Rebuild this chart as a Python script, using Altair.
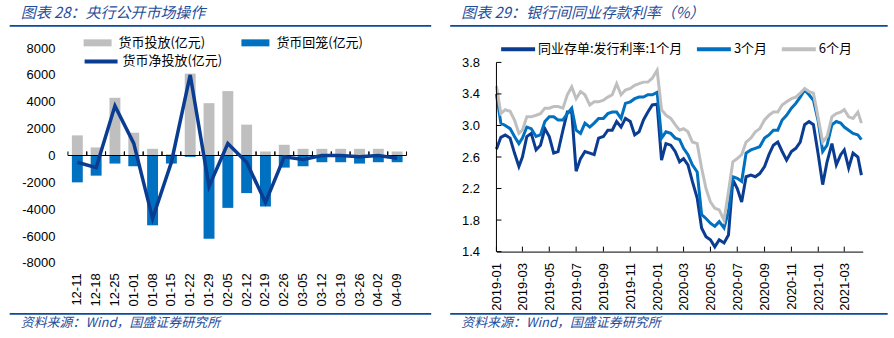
import altair as alt
import pandas as pd

# ---------------- data: left panel ----------------
weeks = ["12-11", "12-18", "12-25", "01-01", "01-08", "01-15", "01-22", "01-29", "02-05",
         "02-12", "02-19", "02-26", "03-05", "03-12", "03-19", "03-26", "04-02", "04-09"]
inject = [1500, 600, 4300, 1700, 500, 100, 6100, 3900, 4800,
          2300, 300, 800, 500, 500, 500, 500, 500, 300]
withdraw = [-2000, -1500, -600, -800, -5200, -600, -100, -6200, -3900,
            -2800, -3800, -900, -800, -500, -500, -600, -500, -500]
net = [-500, -900, 3700, 900, -4700, -500, 6000, -2300, 900,
       -500, -3500, -100, -300, 0, 0, -100, 0, -200]
left_ticks = [-8000, -6000, -4000, -2000, 0, 2000, 4000, 6000, 8000]

# ---------------- data: right panel ----------------
dates = [
    "2019-01-01", "2019-01-11", "2019-01-21", "2019-02-01", "2019-02-11", "2019-02-21",
    "2019-03-01", "2019-03-11", "2019-03-21", "2019-04-01", "2019-04-11", "2019-04-21",
    "2019-05-01", "2019-05-11", "2019-05-21", "2019-06-01", "2019-06-11", "2019-06-21",
    "2019-07-01", "2019-07-11", "2019-07-21", "2019-08-01", "2019-08-11", "2019-08-21",
    "2019-09-01", "2019-09-11", "2019-09-21", "2019-10-01", "2019-10-11", "2019-10-21",
    "2019-11-01", "2019-11-11", "2019-11-21", "2019-12-01", "2019-12-11", "2019-12-21",
    "2020-01-01", "2020-01-11", "2020-01-21", "2020-02-01", "2020-02-11", "2020-02-21",
    "2020-03-01", "2020-03-11", "2020-03-21", "2020-04-01", "2020-04-11", "2020-04-21",
    "2020-05-01", "2020-05-11", "2020-05-21", "2020-06-01", "2020-06-11", "2020-06-21",
    "2020-07-01", "2020-07-11", "2020-07-21", "2020-08-01", "2020-08-11", "2020-08-21",
    "2020-09-01", "2020-09-11", "2020-09-21", "2020-10-01", "2020-10-11", "2020-10-21",
    "2020-11-01", "2020-11-11", "2020-11-21", "2020-12-01", "2020-12-11", "2020-12-21",
    "2021-01-01", "2021-01-11", "2021-01-21", "2021-02-01", "2021-02-11", "2021-02-21",
    "2021-03-01", "2021-03-11", "2021-03-21", "2021-04-01", "2021-04-09"]
rate_1m = [2.70, 2.85, 2.88, 2.84, 2.65, 2.48, 2.60, 2.86, 2.90, 2.69, 2.75, 2.96,
           2.86, 2.65, 2.67, 2.94, 3.17, 3.17, 2.42, 2.58, 2.67, 2.65, 2.63, 2.84,
           2.86, 2.94, 2.94, 3.05, 2.98, 3.09, 3.05, 2.88, 2.92, 3.07, 3.17, 3.26,
           3.27, 2.56, 2.77, 2.75, 2.67, 2.54, 2.58, 2.50, 2.29, 2.08, 1.70, 1.59,
           1.55, 1.46, 1.55, 1.51, 1.61, 2.31, 2.20, 2.03, 2.35, 2.37, 2.35, 2.39,
           2.48, 2.63, 2.75, 2.79, 2.67, 2.56, 2.67, 2.71, 2.79, 3.01, 3.05, 3.01,
           2.63, 2.25, 2.54, 2.77, 2.50, 2.63, 2.69, 2.46, 2.65, 2.60, 2.37]
rate_3m = [3.40, 3.03, 3.00, 2.96, 2.86, 2.77, 2.84, 2.98, 2.96, 2.86, 2.88, 3.05,
           3.11, 3.11, 3.07, 3.07, 3.15, 3.22, 2.94, 2.90, 3.03, 2.98, 3.03, 3.09,
           3.09, 3.15, 3.17, 3.17, 3.09, 3.28, 3.30, 3.34, 3.36, 3.36, 3.39, 3.39,
           3.42, 2.84, 2.92, 2.90, 2.84, 2.82, 2.71, 2.63, 2.50, 2.41, 1.87, 1.82,
           1.76, 1.72, 1.78, 1.70, 1.91, 2.35, 2.33, 2.29, 2.65, 2.69, 2.71, 2.73,
           2.84, 2.88, 2.94, 2.94, 3.07, 3.13, 3.22, 3.28, 3.36, 3.45, 3.39, 3.32,
           3.05, 2.67, 2.75, 3.01, 3.05, 3.03, 2.98, 2.94, 2.90, 2.88, 2.82]
rate_6m = [3.50, 3.15, 3.20, 3.18, 3.07, 2.90, 2.94, 3.11, 3.11, 3.13, 3.15, 3.22,
           3.22, 3.24, 3.24, 3.22, 3.39, 3.49, 3.34, 3.43, 3.39, 3.26, 3.30, 3.30,
           3.32, 3.36, 3.39, 3.53, 3.39, 3.45, 3.47, 3.51, 3.53, 3.55, 3.55, 3.60,
           3.70, 3.20, 3.13, 3.09, 3.01, 2.94, 2.96, 2.92, 2.79, 2.77, 2.46, 2.20,
           2.03, 1.95, 1.93, 1.80, 2.16, 2.54, 2.58, 2.63, 2.79, 2.84, 2.92, 2.96,
           3.07, 3.13, 3.17, 3.17, 3.26, 3.30, 3.34, 3.36, 3.41, 3.47, 3.43, 3.41,
           3.09, 2.79, 2.86, 3.11, 3.15, 3.17, 3.20, 3.11, 3.09, 3.17, 3.03]
right_ticks = [1.4, 1.8, 2.2, 2.6, 3.0, 3.4, 3.8]
date_ticks = ["2019-01-01", "2019-03-01", "2019-05-01", "2019-07-01", "2019-09-01",
              "2019-11-01", "2020-01-01", "2020-03-01", "2020-05-01", "2020-07-01",
              "2020-09-01", "2020-11-01", "2021-01-01", "2021-03-01"]

# ---------------- text ----------------
title_left = ["图表 28：央行公开市场操作"]
title_right = ["图表 29：银行间同业存款利率（%）"]
source_text = ["资料来源：Wind，国盛证券研究所"]
S_INJ, S_WD, S_NET = "货币投放(亿元)", "货币回笼(亿元)", "货币净投放(亿元)"
S_1M, S_3M, S_6M = "同业存单:发行利率:1个月", "3个月", "6个月"

# ---------------- styles / layout ----------------
GRAY, BLUE, NAVY = "#BFBFBF", "#0070C0", "#0A3D91"
TXTBLUE, RULEBLUE = "#1F4E9B", "#0B4A9E"
CJK = "Noto Sans CJK SC"
NUM = "Liberation Sans"
LX0, RX0, TOP = 67.3, 496.3, 48
LW, LH = 339, 215
RW, RH = 366.7, 203.7
PAGE_W, PAGE_H = 894, 338

one = pd.DataFrame({"k": [0]})


def decorations(x0, x_start, x_end, title):
    tdf = pd.DataFrame({"t": title})
    sdf = pd.DataFrame({"t": source_text})
    ttl = alt.Chart(tdf).mark_text(font=CJK, fontSize=15, fontStyle="italic", color=TXTBLUE,
                                   align="left", baseline="middle").encode(
        text="t:N", x=alt.value(x_start + 11 - x0), y=alt.value(13 - TOP))
    src = alt.Chart(sdf).mark_text(font=CJK, fontSize=13, fontStyle="italic", color=TXTBLUE,
                                   align="left", baseline="middle").encode(
        text="t:N", x=alt.value(x_start + 11 - x0), y=alt.value(323 - TOP))
    top_line = alt.Chart(one).mark_rule(color=RULEBLUE, strokeWidth=1.6).encode(
        x=alt.value(x_start - x0), x2=alt.value(x_end - x0), y=alt.value(25.7 - TOP))
    bot_line = alt.Chart(one).mark_rule(color=RULEBLUE, strokeWidth=1.6).encode(
        x=alt.value(x_start - x0), x2=alt.value(x_end - x0), y=alt.value(314 - TOP))
    return [ttl, src, top_line, bot_line]


# ---------------- left panel ----------------
bars_df = pd.DataFrame({"week": weeks * 2,
                        "series": [S_INJ] * len(weeks) + [S_WD] * len(weeks),
                        "value": inject + withdraw})
net_df = pd.DataFrame({"week": weeks, "value": net, "s": [S_NET] * len(weeks)})
wk_df = pd.DataFrame({"week": weeks})

lx_axis = alt.Axis(labelAngle=-90, labelFont=NUM, labelFontSize=13, labelColor="black",
                   labelPadding=10, ticks=False, tickSize=0, domain=False, grid=False, title=None,
                   labelOverlap=False)
lx_scale = alt.Scale(paddingInner=0, paddingOuter=0)
ly_axis = alt.Axis(values=left_ticks, labelExpr="'' + datum.value", labelFont=NUM,
                   labelFontSize=13, labelColor="black", labelPadding=13, ticks=False,
                   tickSize=0, domain=False, grid=False, title=None, labelOverlap=False)
ly_scale = alt.Scale(domain=[-8000, 8000], nice=False)


def lx(bp=None):
    if bp is None:
        return alt.X("week:N", sort=weeks, scale=lx_scale, axis=lx_axis, title=None)
    return alt.X("week:N", sort=weeks, scale=lx_scale, axis=lx_axis, title=None, bandPosition=bp)


ly = alt.Y("value:Q", scale=ly_scale, axis=ly_axis, title=None, stack=None)


def ly_datum(v):
    return alt.YDatum(v, scale=ly_scale, axis=ly_axis)


bar_legend = alt.Legend(orient="none", legendX=83 - LX0, legendY=42.7 - TOP - 14,
                        direction="horizontal", title=None, symbolType="M-1,-0.25H1V0.25H-1Z",
                        symbolSize=784, symbolStrokeWidth=0, labelFont=CJK, labelFontSize=13,
                        labelColor="black", labelOffset=7, columnPadding=36, padding=0)
net_legend = alt.Legend(orient="none", legendX=82 - LX0, legendY=59.3 - TOP - 16.5,
                        direction="horizontal", title=None, symbolType="stroke",
                        symbolSize=1089, symbolStrokeWidth=4, labelFont=CJK, labelFontSize=13,
                        labelColor="black", labelOffset=3, padding=0)

bars = alt.Chart(bars_df).mark_bar(width={"band": 0.58}).encode(
    x=lx(), y=ly,
    color=alt.Color("series:N", scale=alt.Scale(domain=[S_INJ, S_WD], range=[GRAY, BLUE]),
                    legend=bar_legend))
zero = alt.Chart(one).mark_rule(color="black", strokeWidth=1).encode(
    x=alt.value(0), x2=alt.value(LW), y=ly_datum(0))
tick_a = alt.Chart(wk_df).mark_rule(color="black", strokeWidth=1).encode(
    x=lx(0), y=ly_datum(0), y2=alt.Y2Datum(300))
tick_b = alt.Chart(wk_df).mark_rule(color="black", strokeWidth=1).encode(
    x=lx(1), y=ly_datum(0), y2=alt.Y2Datum(300))
net_line = alt.Chart(net_df).mark_line(strokeWidth=3.5).encode(
    x=lx(), y=ly,
    stroke=alt.Stroke("s:N", scale=alt.Scale(domain=[S_NET], range=[NAVY]), legend=net_legend))
anchor_l = alt.Chart(one).mark_rule(opacity=0, strokeWidth=0).encode(
    x=alt.value(-LX0), y=alt.value(-TOP), y2=alt.value(PAGE_H - TOP))

left = alt.layer(bars, zero, tick_a, tick_b, net_line,
                 *decorations(LX0, 9, 431, title_left), anchor_l).properties(width=LW, height=LH)

# ---------------- right panel ----------------
rate_df = pd.DataFrame({"date": dates * 3,
                        "series": [S_1M] * len(dates) + [S_3M] * len(dates) + [S_6M] * len(dates),
                        "value": rate_1m + rate_3m + rate_6m})
rtick_df = pd.DataFrame({"value": right_ticks})
dtick_df = pd.DataFrame({"date": date_ticks})

rx_axis = alt.Axis(values=[alt.DateTime(year=int(d[:4]), month=int(d[5:7]), date=1, utc=True)
                           for d in date_ticks],
                   labelExpr="utcFormat(datum.value, '%Y-%m')", labelAngle=-90, labelFont=NUM,
                   labelFontSize=13, labelColor="black", labelPadding=11, ticks=False, tickSize=0,
                   domain=True, domainColor="black", domainWidth=1, grid=False, title=None,
                   labelOverlap=False)
rx_scale = alt.Scale(domain=[alt.DateTime(year=2019, month=1, date=1, utc=True),
                             alt.DateTime(year=2021, month=4, date=12, utc=True)], nice=False)
ry_axis = alt.Axis(values=right_ticks, format=".1f", labelFont=NUM, labelFontSize=13,
                   labelColor="black", labelPadding=17, ticks=False, tickSize=0, domain=False,
                   grid=False, title=None, labelOverlap=False)
ry_scale = alt.Scale(domain=[1.4, 3.8 + (62.3 - TOP) / 78.92], nice=False, zero=False)
rx = alt.X("date:T", scale=rx_scale, axis=rx_axis, title=None)
ry = alt.Y("value:Q", scale=ry_scale, axis=ry_axis, title=None)

rate_legend = alt.Legend(orient="none", legendX=499 - RX0, legendY=47 - TOP - 17,
                         direction="horizontal", title=None, symbolType="stroke", symbolSize=1156,
                         symbolStrokeWidth=4, labelFont=CJK, labelFontSize=13, labelColor="black",
                         labelOffset=1, columnPadding=6, padding=0)
rcolor = alt.Color("series:N", scale=alt.Scale(domain=[S_1M, S_3M, S_6M], range=[NAVY, BLUE, GRAY]),
                   legend=rate_legend)

series_lines = [
    alt.Chart(rate_df).transform_filter(alt.datum.series == s).mark_line(strokeWidth=3).encode(
        x=rx, y=ry, color=rcolor)
    for s in [S_1M, S_3M, S_6M]
]
y_domain_line = alt.Chart(one).mark_rule(color="black", strokeWidth=1).encode(
    x=alt.value(0), y=alt.YDatum(1.4, scale=ry_scale, axis=ry_axis), y2=alt.Y2Datum(3.8))
y_ticks_in = alt.Chart(rtick_df).mark_rule(color="black", strokeWidth=1).encode(
    y=ry, x=alt.value(0), x2=alt.value(5))
x_ticks_in = alt.Chart(dtick_df).mark_rule(color="black", strokeWidth=1).encode(
    x=rx, y=alt.value(RH), y2=alt.value(RH - 5))
anchor_r = alt.Chart(one).mark_rule(opacity=0, strokeWidth=0).encode(
    x=alt.value(PAGE_W - RX0), y=alt.value(-TOP), y2=alt.value(PAGE_H - TOP))

right = alt.layer(*series_lines, y_domain_line, y_ticks_in, x_ticks_in,
                  *decorations(RX0, 450, 888, title_right), anchor_r).properties(width=RW, height=RH)

chart = alt.hconcat(left, right, spacing=RX0 - LX0 - LW, bounds="flush").resolve_scale(
    color="independent", stroke="independent"
).properties(
    padding=0, autosize=alt.AutoSizeParams(type="pad")
).configure_view(stroke=None).configure_axis(labelOverlap=False, labelBound=False)

chart.save("out.html", embed_options={"renderer": "svg", "actions": False})
